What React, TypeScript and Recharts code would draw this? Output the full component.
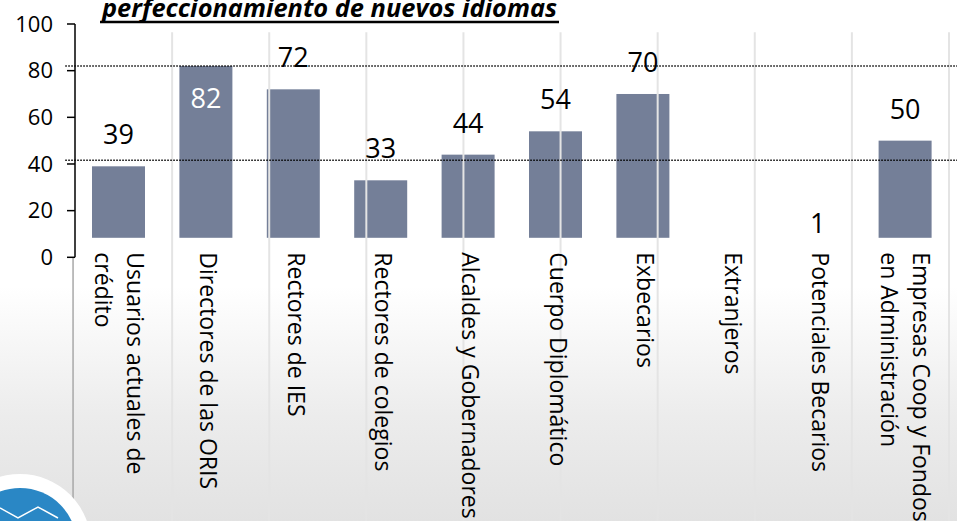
import React from "react";
import { ComposedChart, Bar, XAxis, YAxis, ReferenceLine } from "recharts";

const categories = [
  "Usuarios actuales de\ncrédito",
  "Directores de las ORIS",
  "Rectores de IES",
  "Rectores de colegios",
  "Alcaldes y Gobernadores",
  "Cuerpo Diplomático",
  "Exbecarios",
  "Extranjeros",
  "Potenciales Becarios",
  "Empresas Coop y Fondos\nen Administración",
];
const values: (number | null)[] = [39, 82, 72, 33, 44, 54, 70, null, 1, 50];
const yTicks = [0, 20, 40, 60, 80, 100];
const dottedLevels = [82, 41.6];
const boundaries = [1, 2, 3, 4, 5, 6, 7, 8, 9];
const titleText = "perfeccionamiento de nuevos idiomas";

const data = categories.map((name, i) => ({ name, value: values[i] }));

const FONT = "'Open Sans', 'Noto Sans', sans-serif";
const BAR_COLOR = "#747f98";
const CLIP_PX = 19.5;

const ClippedBar = (props: any) => {
  const { x, y, width, height, fill } = props;
  const h = height - CLIP_PX;
  if (!(h > 0)) return null;
  return <rect x={x} y={y} width={width} height={h} fill={fill} />;
};

const renderValueLabel = (props: any) => {
  const { x, y, width, value } = props;
  if (value === null || value === undefined) return null;
  const inside = value >= 80;
  return (
    <text
      x={x + width / 2}
      y={inside ? y + 42 : y - 22}
      textAnchor="middle"
      fontFamily={FONT}
      fontSize={27}
      fill={inside ? "#ffffff" : "#000000"}
    >
      {value}
    </text>
  );
};

const CategoryTick = (props: any) => {
  const { x, y, payload } = props;
  const lines = String(payload.value).split("\n");
  const offsets = lines.length === 1 ? [2] : [16, -16];
  return (
    <g transform={`translate(${x},${y})`}>
      {lines.map((ln, i) => (
        <text
          key={i}
          transform="rotate(90)"
          x={-5}
          y={8 - offsets[i]}
          textAnchor="start"
          fontFamily={FONT}
          fontSize={23}
          fill="#000"
        >
          {ln}
        </text>
      ))}
    </g>
  );
};

export default function App() {
  return (
    <div
      style={{
        position: "absolute",
        left: 0,
        top: 0,
        width: 957,
        height: 521,
        overflow: "hidden",
        background:
          "linear-gradient(180deg, #ffffff 0%, #ffffff 55%, #ececec 80%, #e2e2e2 100%)",
      }}
    >
      <ComposedChart
        width={957}
        height={521}
        data={data}
        margin={{ top: 24, right: 8, bottom: 0, left: 0 }}
      >
        <XAxis
          dataKey="name"
          height={263.7}
          axisLine={false}
          tickLine={false}
          tickSize={0}
          tickMargin={0}
          interval={0}
          tick={<CategoryTick />}
        />
        <XAxis
          xAxisId="g"
          type="number"
          domain={[-0.011, 9.933]}
          hide
          allowDataOverflow
        />
        <YAxis
          width={75}
          domain={[0, 100]}
          ticks={yTicks}
          tickSize={8}
          tickMargin={14}
          axisLine={{ stroke: "#000", strokeWidth: 1.5 }}
          tickLine={{ stroke: "#000", strokeWidth: 1.5 }}
          tick={{ fontFamily: FONT, fontSize: 22, fill: "#000" }}
        />
        {boundaries.map((b) => (
          <ReferenceLine
            key={`g${b}`}
            xAxisId="g"
            segment={[
              { x: b, y: 96.5 },
              { x: b, y: -113 },
            ]}
            stroke="#e4e4e4"
            strokeWidth={2}
            ifOverflow="visible"
          />
        ))}
        <ReferenceLine
          xAxisId="g"
          segment={[
            { x: -0.02, y: 0 },
            { x: -0.02, y: -113 },
          ]}
          stroke="#a8a8a8"
          strokeWidth={1.5}
          ifOverflow="visible"
        />
        <Bar
          dataKey="value"
          fill={BAR_COLOR}
          barSize={53}
          shape={<ClippedBar />}
          label={renderValueLabel}
          isAnimationActive={false}
        />
        {dottedLevels.map((v) => (
          <ReferenceLine
            key={`d${v}`}
            xAxisId="g"
            segment={[
              { x: -0.1, y: v },
              { x: 10.2, y: v },
            ]}
            stroke="#000"
            strokeWidth={1.5}
            strokeDasharray="1.5 1.5"
            ifOverflow="visible"
          />
        ))}
      </ComposedChart>
      <svg
        width={957}
        height={521}
        style={{ position: "absolute", left: 0, top: 0, pointerEvents: "none" }}
      >
        <text
          x={102}
          y={17}
          fontFamily={FONT}
          fontWeight={700}
          fontStyle="italic"
          fontSize={25}
          textLength={455}
          lengthAdjust="spacingAndGlyphs"
          fill="#000"
        >
          {titleText}
        </text>
        <line x1={100} x2={559} y1={22} y2={22} stroke="#000" strokeWidth={2.5} />
        <circle cx={20} cy={545} r={71} fill="#ffffff" />
        <circle cx={20} cy={545} r={57} fill="#2a87c5" />
        <polyline
          points="0,508 18,518 38,507 58,518"
          fill="none"
          stroke="#ffffff"
          strokeWidth={1.5}
        />
      </svg>
    </div>
  );
}
